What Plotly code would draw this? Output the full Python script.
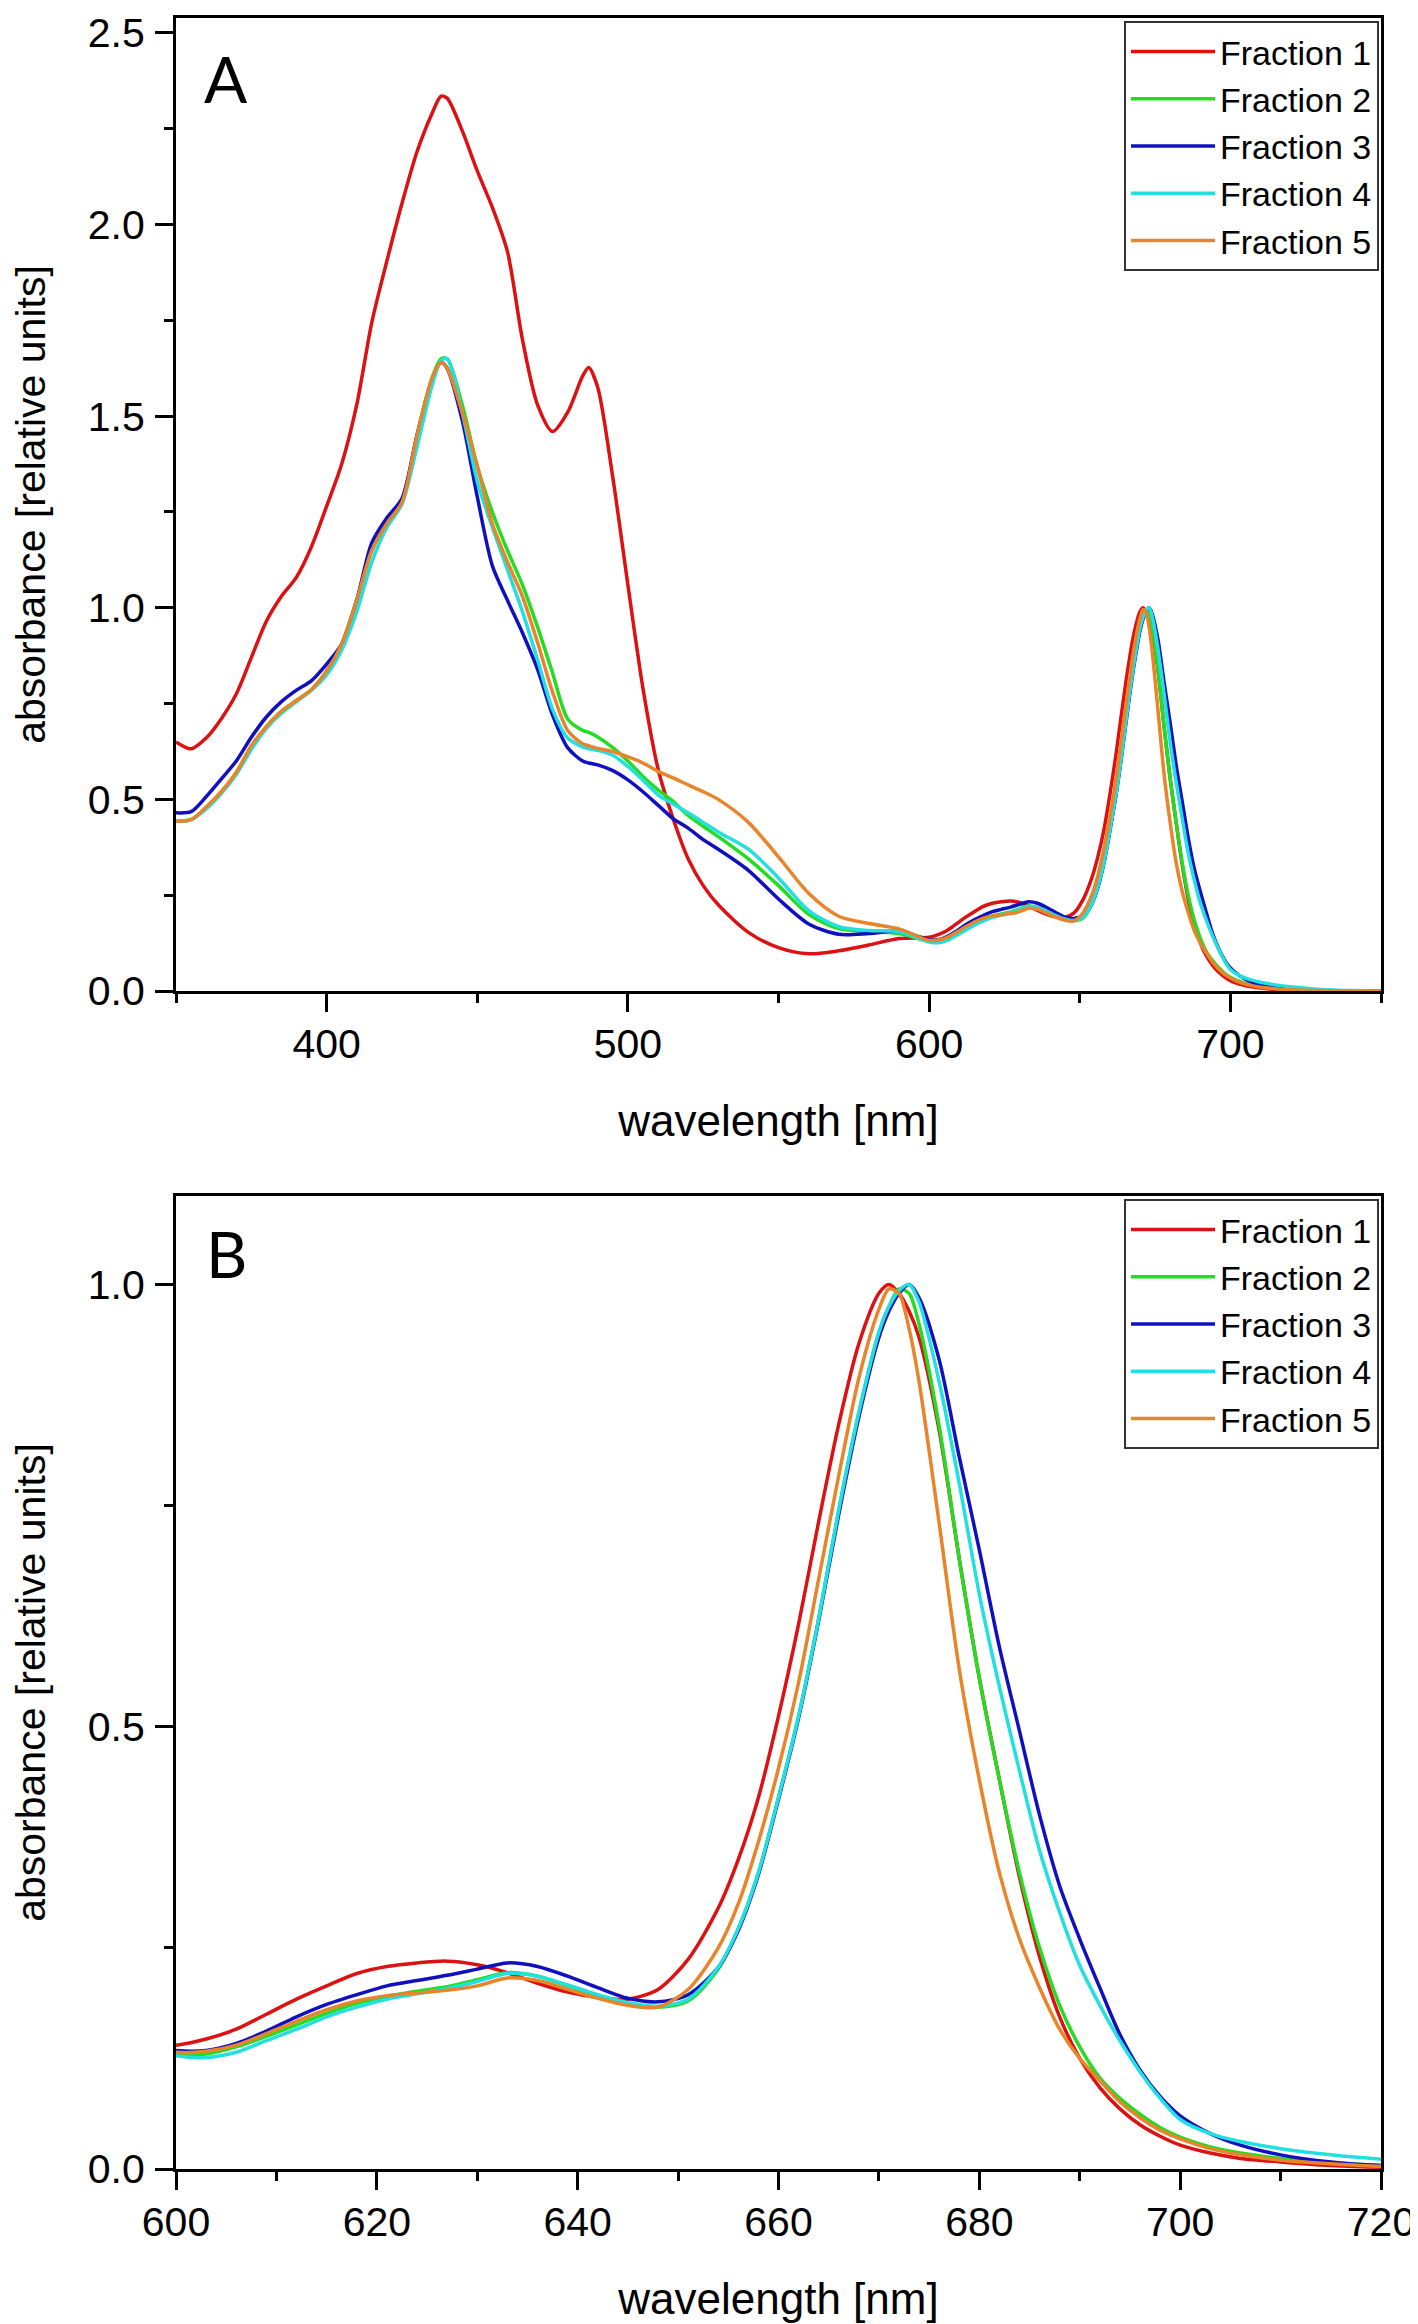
import plotly.graph_objects as go

wavelength = [350,355,360,365,370,375,380,385,390,395,
              400,405,410,415,420,425,430,435,438,440,
              445,450,455,460,465,470,475,480,485,487,490,
              495,500,505,510,515,520,525,530,540,550,
              560,570,580,590,600,603,606,609,612,615,
              618,621,624,627,630,633,636,639,642,645,
              648,651,654,656,658,660,662,664,666,668,
              670,671,672,673,674,676,678,680,682,684,
              686,688,690,692,694,696,698,700,703,706,
              710,715,720,730,740,750]

fraction1 = [0.65,0.632,0.66,0.71,0.775,0.87,0.965,1.03,1.08,1.16,
             1.265,1.375,1.53,1.745,1.905,2.055,2.19,2.29,2.335,2.33,
             2.245,2.14,2.045,1.93,1.70,1.53,1.46,1.51,1.605,1.627,1.575,
             1.34,1.06,0.79,0.58,0.45,0.345,0.275,0.225,0.153,0.113,
             0.097,0.105,0.12,0.137,0.14,0.147,0.158,0.175,0.192,0.207,
             0.221,0.229,0.233,0.235,0.231,0.222,0.210,0.200,0.194,0.192,
             0.203,0.237,0.295,0.35,0.42,0.512,0.616,0.732,0.842,0.933,
             0.99,1.0,0.99,0.97,0.94,0.835,0.69,0.555,0.44,0.33,
             0.24,0.172,0.125,0.092,0.068,0.05,0.037,0.027,0.018,0.012,
             0.008,0.004,0.002,0.001,0.0,0.0]

fraction2 = [0.443,0.447,0.478,0.518,0.57,0.638,0.69,0.73,0.758,0.787,
             0.835,0.905,1.02,1.15,1.225,1.28,1.45,1.60,1.65,1.65,
             1.53,1.37,1.25,1.15,1.06,0.95,0.83,0.71,0.68,0.675,0.663,
             0.635,0.60,0.56,0.525,0.495,0.458,0.43,0.403,0.345,0.275,
             0.20,0.163,0.155,0.15,0.13,0.13,0.138,0.15,0.163,0.176,
             0.187,0.195,0.201,0.206,0.214,0.222,0.218,0.207,0.196,0.187,
             0.183,0.19,0.226,0.272,0.335,0.42,0.512,0.622,0.745,0.855,
             0.946,0.975,0.995,0.99,0.955,0.84,0.69,0.555,0.44,0.335,
             0.25,0.185,0.138,0.103,0.08,0.062,0.047,0.036,0.025,0.018,
             0.012,0.007,0.004,0.001,0.0,0.0]

fraction3 = [0.465,0.468,0.507,0.553,0.60,0.662,0.715,0.755,0.785,0.81,
             0.853,0.905,1.02,1.17,1.235,1.285,1.45,1.595,1.64,1.625,
             1.49,1.29,1.11,1.02,0.935,0.84,0.72,0.635,0.60,0.595,0.59,
             0.575,0.551,0.52,0.485,0.45,0.425,0.395,0.37,0.315,0.24,
             0.175,0.148,0.15,0.156,0.134,0.134,0.142,0.156,0.172,0.186,
             0.197,0.207,0.213,0.219,0.226,0.233,0.229,0.218,0.205,0.193,
             0.189,0.197,0.228,0.27,0.333,0.418,0.51,0.62,0.74,0.85,
             0.94,0.97,0.99,1.0,0.985,0.915,0.805,0.70,0.59,0.495,
             0.40,0.32,0.26,0.205,0.152,0.112,0.082,0.06,0.04,0.027,
             0.016,0.008,0.004,0.001,0.0,0.0]

fraction4 = [0.443,0.447,0.475,0.515,0.565,0.63,0.685,0.725,0.755,0.785,
             0.825,0.89,0.99,1.12,1.21,1.27,1.42,1.58,1.645,1.65,
             1.51,1.33,1.21,1.10,0.99,0.865,0.735,0.66,0.637,0.632,0.628,
             0.615,0.586,0.55,0.512,0.488,0.465,0.44,0.415,0.37,0.295,
             0.21,0.168,0.158,0.155,0.128,0.126,0.132,0.145,0.158,0.172,
             0.183,0.192,0.198,0.204,0.212,0.221,0.218,0.208,0.197,0.188,
             0.184,0.192,0.228,0.272,0.335,0.42,0.512,0.622,0.745,0.855,
             0.946,0.975,0.993,1.0,0.98,0.89,0.775,0.65,0.545,0.45,
             0.36,0.29,0.23,0.185,0.145,0.11,0.08,0.056,0.04,0.031,
             0.023,0.016,0.011,0.004,0.001,0.0]

fraction5 = [0.443,0.447,0.48,0.52,0.57,0.64,0.69,0.73,0.758,0.787,
             0.835,0.905,1.02,1.15,1.22,1.275,1.45,1.60,1.64,1.625,
             1.51,1.37,1.22,1.12,1.03,0.91,0.78,0.68,0.645,0.64,0.633,
             0.625,0.611,0.595,0.573,0.556,0.538,0.52,0.50,0.44,0.35,
             0.255,0.195,0.176,0.162,0.132,0.133,0.14,0.153,0.167,0.18,
             0.19,0.196,0.199,0.202,0.207,0.216,0.213,0.203,0.193,0.185,
             0.183,0.203,0.25,0.30,0.37,0.453,0.55,0.667,0.784,0.894,
             0.972,0.995,0.99,0.95,0.89,0.73,0.565,0.44,0.335,0.26,
             0.205,0.158,0.125,0.10,0.076,0.058,0.044,0.034,0.023,0.016,
             0.01,0.006,0.003,0.001,0.0,0.0]

names = ["Fraction 1", "Fraction 2", "Fraction 3", "Fraction 4", "Fraction 5"]
series = [fraction1, fraction2, fraction3, fraction4, fraction5]
colors = ["#DD1111", "#22DD22", "#1010C0", "#22E0E0", "#E8842A"]

FONT = "Liberation Sans, Arial, sans-serif"
# page has an 8 px body margin; figure is sized to fit the 1418x2324 window
OFF = 8
W, H = 1418 - OFF, 2324 - OFF
ML = 176 - OFF
MR = W - (1381 - OFF)
MT = 18 - OFF
MB = H - (2169 - OFF)

fig = go.Figure()
for name, ys, col in zip(names, series, colors):
    fig.add_trace(go.Scatter(x=wavelength, y=ys, name=name, mode="lines",
                             line=dict(color=col, width=3.5, shape="spline", smoothing=0.8),
                             xaxis="x", yaxis="y", legend="legend"))
for name, ys, col in zip(names, series, colors):
    fig.add_trace(go.Scatter(x=wavelength, y=ys, name=name, mode="lines",
                             line=dict(color=col, width=3.5, shape="spline", smoothing=0.8),
                             xaxis="x2", yaxis="y2", legend="legend2"))

plot_h = H - MT - MB
def py(page_y):
    return (H - MB - (page_y - OFF)) / plot_h
def pxx(page_x):
    return ((page_x - OFF) - ML) / (W - ML - MR)

axis_common = dict(showgrid=False, zeroline=False, showline=True, linecolor="black",
                   linewidth=3, mirror=True, ticks="outside", ticklen=18, tickwidth=3,
                   tickcolor="black", ticklabeloverflow="allow", automargin=False,
                   tickfont=dict(family=FONT, size=41, color="black"))

xt = dict(text="wavelength [nm]", font=dict(family=FONT, size=44), standoff=39)
yt = dict(text="absorbance [relative units]", font=dict(family=FONT, size=41), standoff=62)

fig.update_layout(
    width=W, height=H, plot_bgcolor="white", paper_bgcolor="white",
    margin=dict(l=ML, r=MR, t=MT, b=MB, autoexpand=False),
    font=dict(family=FONT, color="black"),
    xaxis=dict(domain=[0, 1], anchor="y", range=[350, 750], tick0=400, dtick=100,
               minor=dict(ticks="outside", ticklen=9, tickwidth=3, dtick=50, tick0=350, tickcolor="black"),
               title=xt, ticklabelstandoff=-3, **axis_common),
    yaxis=dict(domain=[py(991), 1], anchor="x", range=[0, 2.539], dtick=0.5, tickformat=".1f",
               minor=dict(ticks="outside", ticklen=9, tickwidth=3, dtick=0.25, tickcolor="black"),
               title=yt, ticklabelstandoff=2, **axis_common),
    xaxis2=dict(domain=[0, 1], anchor="y2", range=[600, 720], tick0=600, dtick=20,
                minor=dict(ticks="outside", ticklen=9, tickwidth=3, dtick=10, tickcolor="black"),
                title=xt, ticklabelstandoff=-3, **axis_common),
    yaxis2=dict(domain=[0, py(1196)], anchor="x2", range=[0, 1.1], dtick=0.5, tickformat=".1f",
                minor=dict(ticks="outside", ticklen=9, tickwidth=3, dtick=0.25, tickcolor="black"),
                title=yt, ticklabelstandoff=2, **axis_common),
    legend=dict(x=pxx(1379), y=py(21), xanchor="right", yanchor="top",
                bgcolor="white", bordercolor="#333", borderwidth=2,
                font=dict(family=FONT, size=34, color="black"), itemwidth=84,
                tracegroupgap=0),
    legend2=dict(x=pxx(1379), y=py(1199), xanchor="right", yanchor="top",
                 bgcolor="white", bordercolor="#333", borderwidth=2,
                 font=dict(family=FONT, size=34, color="black"), itemwidth=84,
                 tracegroupgap=0),
    annotations=[
        dict(text="A", x=pxx(226), y=py(79), xref="paper", yref="paper", showarrow=False,
             xanchor="center", yanchor="middle", font=dict(family="Lato, sans-serif", size=64, color="black")),
        dict(text="B", x=pxx(226), y=py(1254), xref="paper", yref="paper", showarrow=False,
             xanchor="center", yanchor="middle", font=dict(family="Lato, sans-serif", size=64, color="black")),
    ],
)

fig.write_html("out.html")
